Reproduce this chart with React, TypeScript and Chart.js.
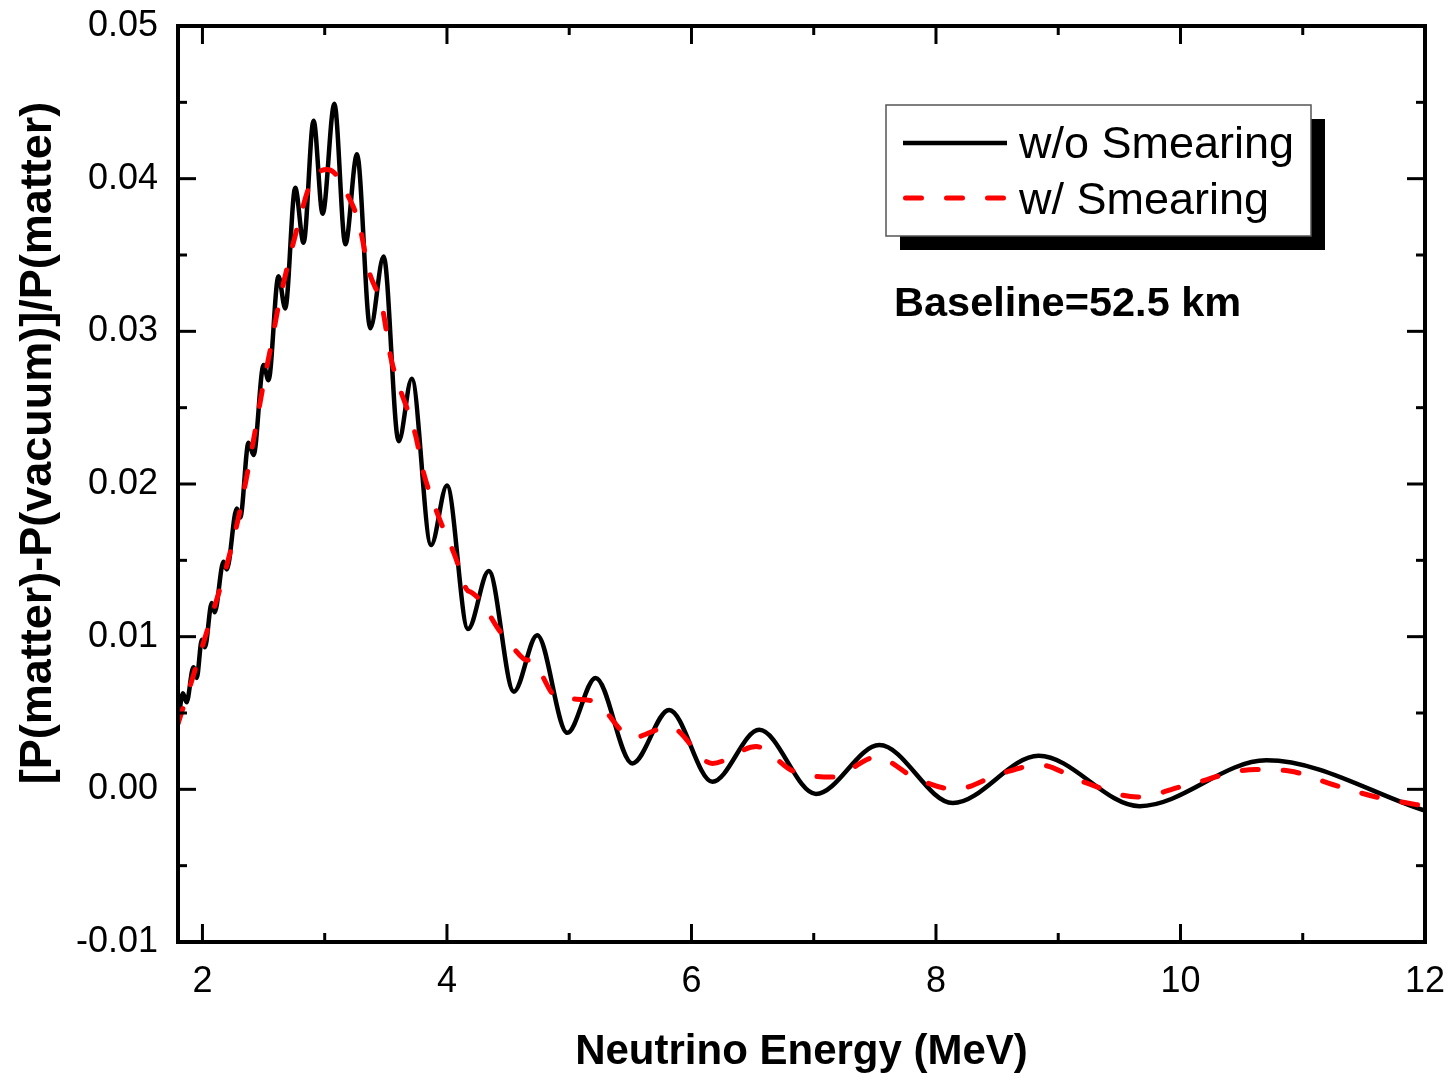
import { useEffect, useRef } from "react";
import { Chart, registerables } from "chart.js";

Chart.register(...registerables);

const FONT = '"Liberation Sans", Arial, Helvetica, sans-serif';

// Axis ticks
const xTickValues = [2, 4, 6, 8, 10, 12];
const xMinorTickValues = [3, 5, 7, 9, 11];
const yTickValues = [-0.01, 0, 0.01, 0.02, 0.03, 0.04, 0.05];
const yMinorTickValues = [-0.005, 0.005, 0.015, 0.025, 0.035, 0.045];

// Texts
const seriesNames = ["w/o Smearing", "w/ Smearing"];
const xTitle = "Neutrino Energy (MeV)";
const yTitle = "[P(matter)-P(vacuum)]/P(matter)";
const annotationText = "Baseline=52.5 km";

// Series: w/o smearing (black solid)
const energyNoSmear = [
  1.8, 1.84, 1.87, 1.926, 1.953, 1.995, 2.02, 2.076, 2.1, 2.172, 2.199, 2.281, 2.309,
  2.377, 2.418, 2.5, 2.54, 2.622, 2.677, 2.759, 2.827, 2.909, 2.983, 3.079, 3.169,
  3.264, 3.373, 3.482, 3.605, 3.712, 3.87, 4.0, 4.172, 4.342, 4.547, 4.738, 4.984,
  5.216, 5.516, 5.817, 6.171, 6.554, 7.018, 7.537, 8.137, 8.84, 9.666, 10.703, 12.0,
];
const valueNoSmear = [
  0.0043, 0.0063, 0.0057, 0.008, 0.0073, 0.0098, 0.0093, 0.0122, 0.0116, 0.0149, 0.0144,
  0.0184, 0.0178, 0.0227, 0.0219, 0.0278, 0.0268, 0.0336, 0.0315, 0.0394, 0.0358, 0.0438,
  0.0377, 0.0449, 0.0357, 0.0416, 0.0302, 0.0349, 0.0228, 0.0269, 0.016, 0.0199, 0.0105,
  0.0143, 0.0064, 0.0101, 0.0037, 0.0073, 0.0017, 0.0052, 0.0005, 0.0039, -0.0003, 0.0029,
  -0.0009, 0.0022, -0.0011, 0.0019, -0.0014,
];

// Series: w/ smearing (red dashed)
const energySmear = [
  1.8, 1.9, 2.0, 2.1, 2.2, 2.3, 2.4, 2.5, 2.565, 2.62, 2.7, 2.8, 2.87, 2.95, 3.02, 3.1,
  3.17, 3.28, 3.36, 3.47, 3.54, 3.605, 3.74, 3.81, 3.93, 4.07, 4.16, 4.2, 4.27, 4.42,
  4.55, 4.64, 4.7, 4.89, 5.19, 5.52, 5.82, 6.17, 6.53, 6.83, 7.15, 7.51, 7.84, 8.16,
  8.52, 8.85, 9.2, 9.65, 10.02, 10.62, 10.89, 11.25, 11.6, 11.93, 12.0,
];
const valueSmear = [
  0.0043, 0.0068, 0.0094, 0.012, 0.0147, 0.018, 0.0221, 0.0266, 0.0292, 0.0316, 0.0344,
  0.0375, 0.0394, 0.0404, 0.0406, 0.0402, 0.0392, 0.0371, 0.034, 0.0316, 0.0283, 0.0265,
  0.0233, 0.0207, 0.0179, 0.0152, 0.0131, 0.0129, 0.0124, 0.0105, 0.0092, 0.0085, 0.0084,
  0.0061, 0.0058, 0.0034, 0.0041, 0.0017, 0.0028, 0.0012, 0.0008, 0.0021, 0.0007, 0.0,
  0.001, 0.0016, 0.0005, -0.0005, 0.0002, 0.0013, 0.0012, 0.0003, -0.0005, -0.001, -0.0011,
];

const RED_DASH = [16, 25];

const extrasPlugin = {
  id: "extras",
  afterDraw(chart: any) {
    const ctx: CanvasRenderingContext2D = chart.ctx;
    const { left, right, top, bottom } = chart.chartArea;
    const xs = chart.scales.x;
    const ys = chart.scales.y;
    ctx.save();
    ctx.strokeStyle = "#000";
    ctx.lineCap = "butt";
    const seg = (x1: number, y1: number, x2: number, y2: number) => {
      ctx.beginPath();
      ctx.moveTo(x1, y1);
      ctx.lineTo(x2, y2);
      ctx.stroke();
    };
    ctx.lineWidth = 3;
    const MAJ = 18;
    const MIN = 9;
    const xTick = (v: number, len: number) => {
      const p = xs.getPixelForValue(v);
      seg(p, bottom, p, bottom - len);
      seg(p, top, p, top + len);
    };
    const yTick = (v: number, len: number) => {
      const p = ys.getPixelForValue(v);
      seg(left, p, left + len, p);
      seg(right, p, right - len, p);
    };
    xTickValues.forEach((v) => xTick(v, MAJ));
    xMinorTickValues.forEach((v) => xTick(v, MIN));
    yTickValues.forEach((v) => yTick(v, MAJ));
    yMinorTickValues.forEach((v) => yTick(v, MIN));

    // frame
    ctx.lineWidth = 4;
    ctx.strokeRect(left, top, right - left, bottom - top);

    // y title
    ctx.fillStyle = "#000";
    ctx.font = `bold 45px ${FONT}`;
    ctx.textAlign = "center";
    ctx.textBaseline = "alphabetic";
    ctx.save();
    ctx.translate(51, 443);
    ctx.rotate(-Math.PI / 2);
    ctx.fillText(yTitle, 0, 0);
    ctx.restore();

    // legend box with shadow
    const bx = 886, by = 105, bw = 425, bh = 131, sh = 14;
    ctx.fillStyle = "#000";
    ctx.fillRect(bx + sh, by + sh, bw, bh);
    ctx.fillStyle = "#fff";
    ctx.fillRect(bx, by, bw, bh);
    ctx.strokeStyle = "#555";
    ctx.lineWidth = 1.5;
    ctx.strokeRect(bx, by, bw, bh);

    // legend samples
    ctx.strokeStyle = "#000";
    ctx.lineWidth = 4.5;
    seg(903, 143, 1007, 143);
    ctx.strokeStyle = "#ff0000";
    ctx.lineWidth = 5;
    ctx.lineCap = "round";
    ctx.setLineDash(RED_DASH);
    seg(905.5, 198, 1005, 198);
    ctx.setLineDash([]);

    ctx.fillStyle = "#000";
    ctx.textAlign = "left";
    ctx.font = `45px ${FONT}`;
    ctx.fillText(seriesNames[0], 1019, 158);
    ctx.fillText(seriesNames[1], 1019, 214);

    ctx.font = `bold 41.5px ${FONT}`;
    ctx.fillText(annotationText, 894, 316);
    ctx.restore();
  },
};

export default function App() {
  const canvasRef = useRef<HTMLCanvasElement | null>(null);

  useEffect(() => {
    const canvas = canvasRef.current;
    if (!canvas) return;
    const chart = new Chart(canvas, {
      type: "line",
      data: {
        datasets: [
          {
            label: seriesNames[1],
            data: energySmear.map((e, i) => ({ x: e, y: valueSmear[i] })),
            borderColor: "#ff0000",
            borderWidth: 5,
            borderDash: RED_DASH,
            borderCapStyle: "round",
            pointRadius: 0,
            cubicInterpolationMode: "monotone",
            fill: false,
            order: 0,
          },
          {
            label: seriesNames[0],
            data: energyNoSmear.map((e, i) => ({ x: e, y: valueNoSmear[i] })),
            borderColor: "#000000",
            borderWidth: 4.5,
            pointRadius: 0,
            cubicInterpolationMode: "monotone",
            fill: false,
            order: 1,
          },
        ],
      },
      options: {
        responsive: false,
        animation: false,
        devicePixelRatio: 1,
        layout: { padding: { top: 26, right: 26, left: 0, bottom: 0 } },
        plugins: {
          legend: { display: false },
          tooltip: { enabled: false },
        },
        scales: {
          x: {
            type: "linear",
            min: 1.8,
            max: 12,
            grid: { display: false },
            border: { display: false },
            afterBuildTicks: (s: any) => {
              s.ticks = xTickValues.map((v) => ({ value: v }));
            },
            afterFit: (s: any) => {
              s.height = 131;
              s.paddingLeft = 0;
              s.paddingRight = 0;
            },
            ticks: {
              color: "#000",
              font: { family: FONT, size: 36 },
              padding: 10,
              maxRotation: 0,
              callback: (v: any) => String(v),
            },
            title: {
              display: true,
              text: xTitle,
              color: "#000",
              font: { family: FONT, size: 42, weight: "bold", lineHeight: 1 },
              padding: { top: 0, bottom: 0 },
            },
          },
          y: {
            type: "linear",
            min: -0.01,
            max: 0.05,
            grid: { display: false },
            border: { display: false },
            afterBuildTicks: (s: any) => {
              s.ticks = yTickValues.map((v) => ({ value: v }));
            },
            afterFit: (s: any) => {
              s.width = 178;
              s.paddingTop = 0;
              s.paddingBottom = 0;
            },
            ticks: {
              color: "#000",
              font: { family: FONT, size: 36 },
              padding: 12,
              callback: (v: any) => Number(v).toFixed(2),
            },
          },
        },
      } as any,
      plugins: [extrasPlugin],
    });
    return () => chart.destroy();
  }, []);

  return (
    <div style={{ position: "fixed", left: 0, top: 0, width: 1451, height: 1073, background: "#fff" }}>
      <canvas ref={canvasRef} width={1451} height={1073} style={{ display: "block" }} />
    </div>
  );
}
